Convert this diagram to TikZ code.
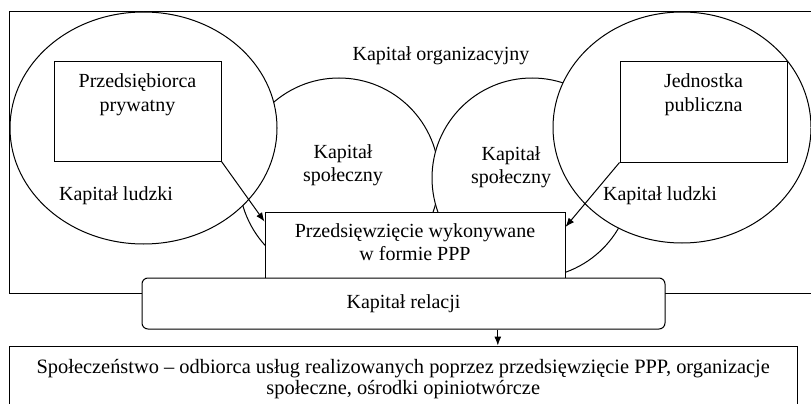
\documentclass[tikz,border=0pt]{standalone}
\usepackage{fontspec}
\setmainfont{Liberation Serif}
\usepackage{tikz}
\usetikzlibrary{positioning}
\usetikzlibrary{calc}
\usetikzlibrary{shapes.geometric}
\usetikzlibrary{arrows.meta}
\tikzstyle{block} = [draw, rectangle, fill=white, inner sep=0pt]
\tikzstyle{rblock} = [draw, rectangle, rounded corners=6pt, fill=white, inner sep=0pt]
\tikzstyle{ring} = [draw, circle, fill=white, minimum size=200pt, inner sep=0pt]
\tikzstyle{oval} = [draw, ellipse, fill=white, inner sep=0pt]
\tikzstyle{txt} = [align=center, inner sep=0pt]

\begin{document}
\begin{tikzpicture}[x=1pt,y=-1pt,line width=1pt,>={Latex[length=9pt,width=7pt]},font=\fontsize{20}{23.5}\selectfont]
    \useasboundingbox (0,0) rectangle (811,404);
    \draw (9.5,11.5) rectangle (830,293.5);
    \node [ring] (soc1) at (339,178) {};
    \node [ring] (soc2) at (532,178) {};
    \node [oval, minimum width=267pt, minimum height=232pt] (left) at (143.5,128) {};
    \node [oval, minimum width=258pt, minimum height=231pt] (right) at (682,127.5) {};
    \node [block, minimum width=167pt, minimum height=99pt, label={[txt,anchor=north,yshift=-12pt]north:Przedsiębiorca\\prywatny}] (priv) at (137.5,111.5) {};
    \node [block, minimum width=167pt, minimum height=100pt, label={[txt,anchor=north,yshift=-12pt]north:Jednostka\\publiczna}] (jed) at (703.5,112) {};
    \node [block, minimum width=300pt, minimum height=66pt, label={[txt,yshift=3pt]center:Przedsięwzięcie wykonywane\\w formie PPP}] (ppp) at (415,245) {};
    \node [rblock, minimum width=523pt, minimum height=51pt] (rel) at (403.5,303.5) {Kapitał relacji};
    \node [block, minimum width=787.5pt, minimum height=66pt, align=center, font=\fontsize{20.4}{21}\selectfont] (soc) at (403.25,379) {Społeczeństwo – odbiorca usług realizowanych poprzez przedsięwzięcie PPP, organizacje\\społeczne, ośrodki opiniotwórcze};

    \node [txt] (org) at (441,56) {Kapitał organizacyjny};
    \node [txt] (socl) at (343,165) {Kapitał\\społeczny};
    \node [txt] (socr) at (511,167) {Kapitał\\społeczny};
    \node [txt] (ludl) at (116,196) {Kapitał ludzki};
    \node [txt] (ludr) at (660,196) {Kapitał ludzki};

    \draw [->] (priv.south east) -- ($(ppp.north west)!0.15!(ppp.south west)$);
    \draw [->] (jed.south west) -- ($(ppp.north east)!0.23!(ppp.south east)$);
    \coordinate (down) at ($(rel.south west)!0.68!(rel.south east)$);
    \draw [->] (down) -- (down |- soc.north);
\end{tikzpicture}
\end{document}
